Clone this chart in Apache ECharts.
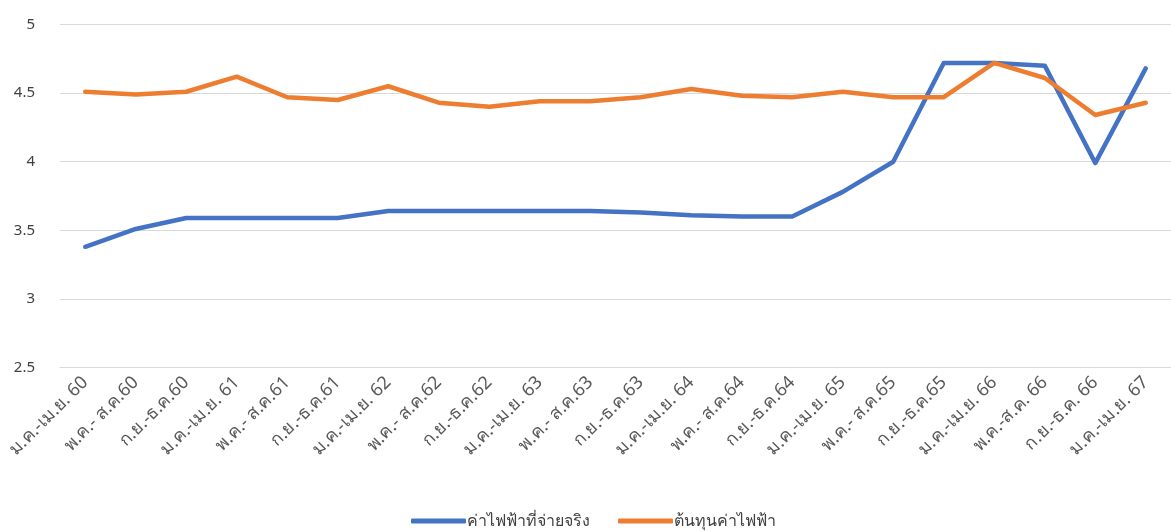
<!DOCTYPE html>
<html>
<head>
<meta charset="utf-8">
<script src="https://cdn.jsdelivr.net/npm/echarts@6/dist/echarts.min.js"></script>
<style>
  html, body { margin: 0; padding: 0; background: #ffffff; }
  #chart { width: 1171px; height: 532px; }
</style>
</head>
<body>
<div id="chart"></div>
<script>
// Four-month periods, Thai Buddhist-era years 2560–2567
const categories = [
  'ม.ค.-เม.ย. 60', 'พ.ค.- ส.ค.60', 'ก.ย.-ธ.ค.60',
  'ม.ค.-เม.ย. 61', 'พ.ค.- ส.ค.61', 'ก.ย.-ธ.ค.61',
  'ม.ค.-เม.ย. 62', 'พ.ค.- ส.ค.62', 'ก.ย.-ธ.ค.62',
  'ม.ค.-เม.ย. 63', 'พ.ค.- ส.ค.63', 'ก.ย.-ธ.ค.63',
  'ม.ค.-เม.ย. 64', 'พ.ค.- ส.ค.64', 'ก.ย.-ธ.ค.64',
  'ม.ค.-เม.ย. 65', 'พ.ค.- ส.ค.65', 'ก.ย.-ธ.ค.65',
  'ม.ค.-เม.ย. 66', 'พ.ค.-ส.ค. 66', 'ก.ย.-ธ.ค. 66',
  'ม.ค.-เม.ย. 67'
];

// Electricity price actually charged (baht/unit)
const paidRate = [
  3.38, 3.51, 3.59, 3.59, 3.59, 3.59, 3.64, 3.64, 3.64, 3.64, 3.64,
  3.63, 3.61, 3.60, 3.60, 3.78, 4.00, 4.72, 4.72, 4.70, 3.99, 4.68
];

// Electricity cost (baht/unit)
const costRate = [
  4.51, 4.49, 4.51, 4.62, 4.47, 4.45, 4.55, 4.43, 4.40, 4.44, 4.44,
  4.47, 4.53, 4.48, 4.47, 4.51, 4.47, 4.47, 4.72, 4.61, 4.34, 4.43
];

const seriesNames = ['ค่าไฟฟ้าที่จ่ายจริง', 'ต้นทุนค่าไฟฟ้า'];
const yTicks = { min: 2.5, max: 5, interval: 0.5 };

const fontStack = '"Noto Sans", "DejaVu Sans", sans-serif';
const chart = echarts.init(document.getElementById('chart'));

chart.setOption({
  animation: false,
  backgroundColor: '#ffffff',
  color: ['#4472C4', '#ED7D31'],
  grid: { left: 60, top: 24.5, width: 1117, height: 343, containLabel: false },
  legend: {
    top: 508,
    left: 406,
    itemWidth: 55,
    itemHeight: 5,
    itemGap: 28,
    icon: 'roundRect',
    textStyle: { fontFamily: fontStack, fontSize: 16, color: '#404040', padding: [0, 0, 0, -4] },
    data: seriesNames
  },
  xAxis: {
    type: 'category',
    data: categories,
    boundaryGap: true,
    axisLine: { show: true, lineStyle: { color: '#d9d9d9', width: 1 } },
    axisTick: { show: false },
    axisLabel: {
      rotate: 45,
      interval: 0,
      margin: 12,
      fontFamily: fontStack,
      fontSize: 18,
      color: '#595959'
    }
  },
  yAxis: {
    type: 'value',
    min: yTicks.min,
    max: yTicks.max,
    interval: yTicks.interval,
    axisLine: { show: false },
    axisTick: { show: false },
    splitLine: { lineStyle: { color: '#d9d9d9', width: 1 } },
    axisLabel: {
      margin: 25,
      fontFamily: fontStack,
      fontSize: 15,
      color: '#404040'
    }
  },
  series: [
    {
      name: seriesNames[0],
      type: 'line',
      data: paidRate,
      symbol: 'none',
      lineStyle: { width: 4.5, cap: 'round', join: 'round' }
    },
    {
      name: seriesNames[1],
      type: 'line',
      data: costRate,
      symbol: 'none',
      lineStyle: { width: 4.5, cap: 'round', join: 'round' }
    }
  ]
});
</script>
</body>
</html>
